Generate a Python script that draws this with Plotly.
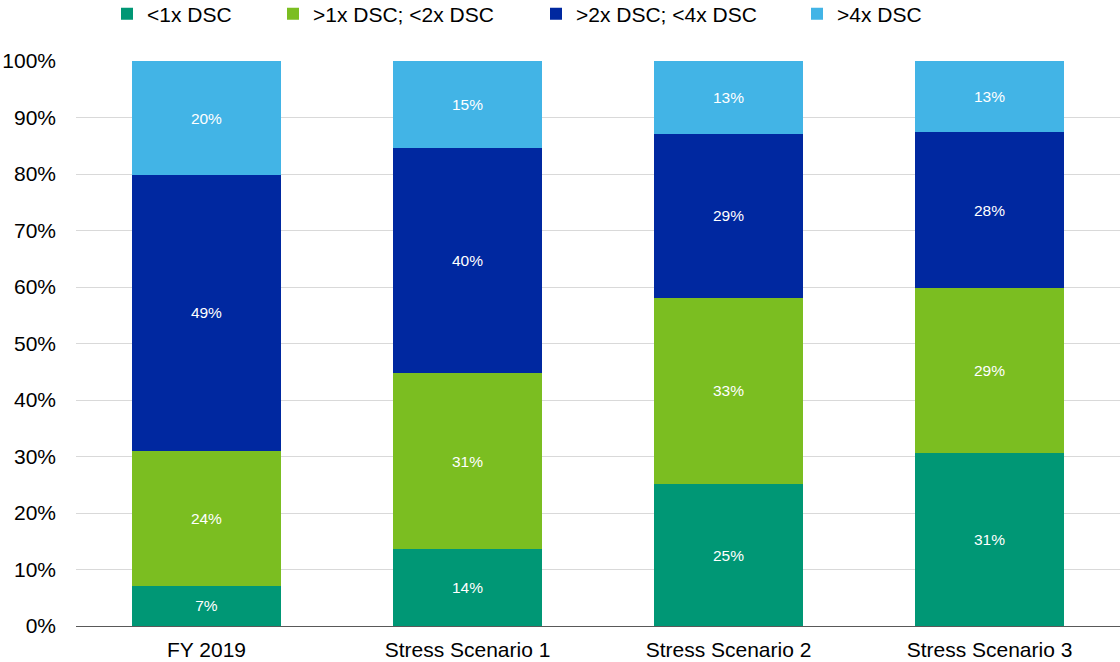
import plotly.graph_objects as go

categories = ["FY 2019", "Stress Scenario 1", "Stress Scenario 2", "Stress Scenario 3"]
series_names = ["<1x DSC", ">1x DSC; <2x DSC", ">2x DSC; <4x DSC", ">4x DSC"]
lt1x = [7.1, 13.6, 25.1, 30.6]
b1x2x = [23.9, 31.2, 33.0, 29.2]
b2x4x = [48.8, 39.8, 29.0, 27.6]
gt4x = [20.2, 15.4, 12.9, 12.6]
y_ticks = [0, 10, 20, 30, 40, 50, 60, 70, 80, 90, 100]
y_tick_labels = ["0%", "10%", "20%", "30%", "40%", "50%", "60%", "70%", "80%", "90%", "100%"]

series_values = [lt1x, b1x2x, b2x4x, gt4x]
colors = ["#009775", "#7BBE21", "#0028A0", "#42B4E6"]
legend_ids = ["legend", "legend2", "legend3", "legend4"]
legend_x = [107, 273, 536, 797]

FONT = "Liberation Sans, Arial, sans-serif"
W, H = 1120, 662

fig = go.Figure()
for name, vals, col, lid in zip(series_names, series_values, colors, legend_ids):
    fig.add_trace(go.Bar(
        x=categories, y=vals, name=name,
        marker=dict(color=col, line=dict(width=0)),
        texttemplate="%{y:.0f}%", textposition="inside",
        insidetextanchor="middle",
        textfont=dict(color="white", size=15.5, family=FONT),
        legend=lid, hoverinfo="skip", showlegend=True,
    ))

layout_legends = {}
for lid, lx in zip(legend_ids, legend_x):
    layout_legends[lid] = dict(
        x=lx / W, xref="container", xanchor="left",
        y=1 - 14 / H, yref="container", yanchor="middle",
        orientation="h", bgcolor="rgba(0,0,0,0)",
        font=dict(size=21, family=FONT, color="#000000"),
        visible=True,
    )

fig.update_layout(
    width=W, height=H,
    showlegend=True,
    barmode="stack", bargap=0.43,
    plot_bgcolor="white", paper_bgcolor="white",
    margin=dict(l=76, r=0, t=61, b=36, pad=0),
    font=dict(family=FONT, size=21, color="#000000"),
    **layout_legends,
)
fig.update_xaxes(
    showgrid=False, showline=True, linecolor="#595959", linewidth=1,
    ticks="", ticklabelstandoff=5, automargin=False,
    tickfont=dict(size=21, family=FONT, color="#000000"),
)
fig.update_yaxes(
    range=[0, 100], tickvals=y_ticks, ticktext=y_tick_labels,
    showgrid=True, gridcolor="#D9D9D9", gridwidth=1,
    zeroline=False, showline=False, ticks="",
    ticklabelstandoff=19, automargin=False,
    tickfont=dict(size=21, family=FONT, color="#000000"),
)

fig.write_html(
    "out.html",
    config={"displayModeBar": False},
    post_script="document.body.style.margin='0px';document.body.style.overflow='hidden';",
)
